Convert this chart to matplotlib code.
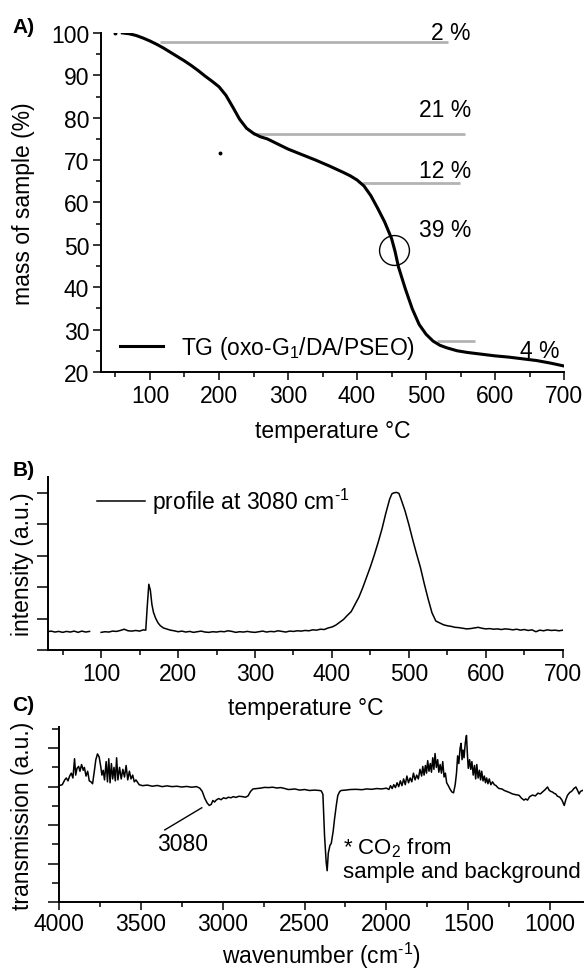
import numpy as np
import matplotlib
matplotlib.use("Agg")
import matplotlib.pyplot as plt
from matplotlib.ticker import MultipleLocator, NullFormatter

plt.rcParams['font.family'] = ['Liberation Sans', 'DejaVu Sans']
plt.rcParams['mathtext.fontset'] = 'custom'
plt.rcParams['mathtext.rm'] = 'Liberation Sans'
plt.rcParams['mathtext.it'] = 'Liberation Sans'
plt.rcParams['mathtext.default'] = 'regular'

# --- A) TG curve
tg_temp = [60, 70, 80, 90, 100, 110, 120, 130, 140, 150, 160, 170, 180, 190, 200,
           210, 220, 230, 240, 250, 260, 270, 280, 290, 300, 320, 340, 360, 380,
           390, 400, 410, 420, 430, 440, 450, 455, 460, 470, 480, 490, 500, 510, 520,
           530, 545, 560, 580, 600, 620, 640, 660, 680, 700]
tg_mass = [100.0, 99.8, 99.4, 98.8, 98.1, 97.3, 96.4, 95.4, 94.4, 93.4, 92.3, 91.1,
           89.8, 88.6, 87.3, 85.3, 82.5, 79.6, 77.5, 76.3, 75.5, 75.0, 74.2, 73.4,
           72.6, 71.3, 70.0, 68.6, 67.1, 66.3, 65.3, 63.9, 61.6, 58.6, 55.4, 51.5,
           48.5, 44.8, 39.6, 34.9, 31.2, 28.9, 27.3, 26.3, 25.7, 25.0, 24.6, 24.2,
           23.8, 23.5, 23.1, 22.7, 22.1, 21.4]
stray_temp = [49, 201]
stray_mass = [100.0, 71.6]

# mass-loss steps (grey lines) and their labels
step_mass = [97.8, 76.1, 64.6, 27.3]
step_t0 = [114, 249, 407, 516]
step_t1 = [532, 556, 549, 571]
pct_labels = ['2 %', '21 %', '12 %', '39 %', '4 %']
pct_t = [564, 566, 565, 566, 694]
pct_m = [100.2, 82.0, 67.6, 53.7, 25.0]
circle_t, circle_m = 454, 48.8

# --- B) profile at 3080 cm-1
b_temp = [30, 35, 40, 45, 50, 55, 60, 65, 70, 75, 80, 85, 92, 100, 105, 110, 115,
          120, 125, 130, 135, 140, 145, 150, 155, 158, 160, 162, 164, 166, 168, 171,
          174, 177, 181, 186, 190, 195, 200, 205, 210, 215, 220, 225, 230, 235, 240,
          245, 250, 255, 260, 265, 270, 275, 280, 285, 290, 295, 300, 305, 310, 315,
          320, 325, 330, 335, 340, 345, 350, 355, 360, 365, 370, 375, 380, 385, 390,
          395, 400, 405, 410, 415, 420, 425, 430, 435, 440, 445, 450, 455, 460, 465,
          470, 475, 478, 481, 484, 487, 490, 495, 500, 505, 510, 515, 520, 525, 530,
          535, 540, 545, 550, 555, 560, 565, 570, 575, 580, 585, 590, 595, 600, 605,
          610, 615, 620, 625, 630, 635, 640, 645, 650, 655, 660, 665, 670, 675, 680,
          685, 690, 695, 700]
b_int = [0.58, 0.60, 0.57, 0.59, 0.56, 0.59, 0.57, 0.60, 0.56, 0.60, 0.57, 0.59, np.nan,
         0.56, 0.58, 0.57, 0.60, 0.59, 0.62, 0.66, 0.61, 0.60, 0.62, 0.60, 0.64, 0.63,
         1.40, 2.09, 1.90, 1.45, 1.20, 1.00, 0.86, 0.77, 0.70, 0.66, 0.63, 0.61, 0.58,
         0.60, 0.57, 0.59, 0.56, 0.58, 0.60, 0.57, 0.56, 0.58, 0.57, 0.59, 0.58, 0.61,
         0.59, 0.56, 0.58, 0.57, 0.59, 0.57, 0.56, 0.58, 0.60, 0.57, 0.59, 0.58, 0.61,
         0.59, 0.57, 0.60, 0.59, 0.61, 0.60, 0.62, 0.61, 0.64, 0.63, 0.66, 0.65, 0.70,
         0.73, 0.79, 0.88, 0.97, 1.10, 1.22, 1.45, 1.68, 1.98, 2.32, 2.65, 3.02, 3.42,
         3.85, 4.35, 4.80, 4.97, 5.00, 5.01, 4.98, 4.78, 4.42, 3.98, 3.50, 3.05, 2.62,
         2.10, 1.62, 1.18, 0.92, 0.86, 0.80, 0.77, 0.75, 0.72, 0.71, 0.69, 0.67, 0.68,
         0.70, 0.72, 0.69, 0.67, 0.68, 0.66, 0.67, 0.65, 0.67, 0.66, 0.64, 0.66, 0.63,
         0.65, 0.62, 0.64, 0.58, 0.63, 0.61, 0.64, 0.62, 0.63, 0.61, 0.63]

# --- C) IR spectrum
c_wn = [4000, 3980, 3965, 3955, 3945, 3935, 3925, 3915, 3905, 3898, 3890, 3880, 3872,
        3862, 3852, 3845, 3835, 3825, 3815, 3805, 3795, 3785, 3775, 3765, 3755, 3745,
        3738, 3730, 3722, 3712, 3704, 3696, 3688, 3680, 3672, 3664, 3656, 3648, 3640,
        3630, 3620, 3610, 3600, 3590, 3580, 3570, 3560, 3550, 3540, 3530, 3510, 3490,
        3460, 3430, 3400, 3370, 3340, 3310, 3280, 3250, 3220, 3190, 3160, 3140, 3125,
        3110, 3095, 3082, 3070, 3060, 3050, 3040, 3025, 3010, 2995, 2980, 2965, 2950,
        2935, 2920, 2900, 2880, 2860, 2845, 2830, 2815, 2795, 2770, 2745, 2720, 2695,
        2670, 2645, 2620, 2600, 2580, 2560, 2530, 2500, 2470, 2440, 2410, 2398, 2388,
        2378, 2368, 2362, 2355, 2345, 2337, 2325, 2317, 2305, 2297, 2285, 2276, 2250,
        2220, 2185, 2150, 2120, 2090, 2060, 2030, 2000, 1985, 1975, 1965, 1955, 1945,
        1935, 1925, 1915, 1905, 1895, 1885, 1875, 1865, 1855, 1845, 1835, 1825, 1815,
        1805, 1795, 1785, 1778, 1770, 1762, 1755, 1748, 1740, 1732, 1725, 1717, 1710,
        1703, 1695, 1687, 1680, 1672, 1664, 1656, 1648, 1640, 1632, 1622, 1610, 1600,
        1590, 1580, 1572, 1565, 1558, 1550, 1544, 1538, 1532, 1526, 1518, 1511, 1505,
        1500, 1492, 1485, 1478, 1470, 1462, 1455, 1448, 1440, 1432, 1425, 1418, 1410,
        1402, 1395, 1388, 1380, 1372, 1362, 1352, 1341, 1330, 1320, 1311, 1295, 1280,
        1265, 1250, 1230, 1210, 1190, 1175, 1160, 1150, 1138, 1125, 1108, 1090, 1075,
        1060, 1047, 1030, 1016, 1005, 995, 986, 975, 966, 955, 941, 928, 914, 905, 894,
        880, 870, 864, 855, 843, 835, 823, 815, 803]
c_tr = [6.05, 6.10, 6.35, 6.45, 6.30, 6.55, 6.70, 6.45, 7.45, 6.60, 6.95, 7.05, 6.80,
        7.15, 6.85, 7.00, 6.55, 6.80, 6.30, 6.25, 6.15, 6.75, 7.40, 7.70, 7.55, 7.05,
        6.60, 6.85, 6.35, 7.30, 6.25, 7.45, 6.20, 7.20, 6.40, 7.00, 6.30, 7.50, 6.35,
        7.00, 6.40, 6.90, 6.50, 7.10, 6.35, 6.80, 6.40, 6.60, 6.25, 6.35, 6.10, 6.05,
        6.08, 6.02, 6.06, 6.00, 6.04, 6.00, 6.02, 5.98, 6.01, 5.97, 6.00, 5.92, 5.75,
        5.40, 5.15, 5.02, 5.08, 5.28, 5.20, 5.30, 5.38, 5.32, 5.42, 5.38, 5.45, 5.42,
        5.48, 5.44, 5.50, 5.48, 5.45, 5.52, 5.75, 5.88, 5.90, 5.92, 5.96, 5.95, 5.97,
        5.93, 5.95, 5.90, 5.85, 5.86, 5.88, 5.82, 5.85, 5.80, 5.82, 5.80, 5.78, 5.60,
        3.45, 2.07, 1.63, 2.55, 2.95, 3.05, 3.70, 4.32, 5.10, 5.54, 5.75, 5.80, 5.82,
        5.85, 5.86, 5.84, 5.88, 5.86, 5.90, 5.88, 5.92, 5.85, 6.05, 5.90, 6.10, 5.95,
        6.20, 6.00, 6.30, 6.05, 6.40, 6.10, 6.55, 6.20, 6.45, 6.25, 6.70, 6.35, 6.60,
        6.40, 6.90, 6.55, 7.05, 6.60, 7.10, 6.70, 7.35, 6.80, 7.20, 6.75, 7.50, 6.90,
        7.72, 7.00, 7.40, 6.75, 7.15, 6.70, 7.30, 6.50, 6.70, 6.20, 6.05, 5.85, 5.72,
        5.68, 6.10, 6.70, 7.60, 7.20, 8.00, 8.25, 7.40, 7.90, 7.50, 8.30, 8.66, 7.60,
        6.95, 7.40, 6.90, 7.30, 6.60, 7.10, 6.40, 7.15, 6.45, 6.85, 6.35, 6.80, 6.30,
        6.55, 6.20, 6.45, 6.15, 6.40, 6.10, 6.25, 6.10, 6.05, 5.95, 5.90, 5.88, 5.80,
        5.75, 5.70, 5.62, 5.58, 5.55, 5.40, 5.30, 5.36, 5.30, 5.48, 5.56, 5.52, 5.66,
        5.62, 5.72, 5.85, 5.98, 5.80, 5.75, 5.72, 5.65, 5.62, 5.50, 5.45, 5.30, 5.02,
        5.30, 5.55, 5.70, 5.75, 5.80, 5.90, 5.98, 5.85, 5.62, 5.75, 5.80]

FS_TICK = 16.5
FS_LAB = 16.5
GREY = '#b3b3b3'


def style_axes(ax):
    ax.spines['top'].set_visible(False)
    ax.spines['right'].set_visible(False)
    for s in ('left', 'bottom'):
        ax.spines[s].set_linewidth(1.4)
    ax.tick_params(which='major', direction='out', length=6, width=1.1,
                   labelsize=FS_TICK, pad=2.5)
    ax.tick_params(which='minor', direction='out', length=3.5, width=1.1)


def place_labels(ax, xy, yx):
    ax.xaxis.set_label_coords(0.5, xy)
    ax.yaxis.set_label_coords(yx, 0.5)
    ax.xaxis.label.set_va('center')
    ax.yaxis.label.set_va('center')


fig = plt.figure(figsize=(5.87, 9.70), dpi=100)

# ---------- A
axA = fig.add_axes([0.172, 0.6155, 0.789, 0.3495])
for y, t0, t1 in zip(step_mass, step_t0, step_t1):
    axA.plot([t0, t1], [y, y], color=GREY, lw=2.0, solid_capstyle='butt', zorder=1)
axA.plot(tg_temp, tg_mass, color='black', lw=2.2, zorder=3,
         label='TG (oxo-G$_1$/DA/PSEO)')
axA.plot(stray_temp, stray_mass, ls='none', marker='o', ms=1.8, color='black')
axA.plot(circle_t, circle_m, marker='o', ms=21.5, mfc='none', mec='black', mew=1.0)
for lab, t, m in zip(pct_labels, pct_t, pct_m):
    axA.text(t, m, lab, ha='right', va='center', fontsize=FS_LAB)
axA.set_xlim(29, 700)
axA.set_ylim(20, 100)
axA.xaxis.set_major_locator(MultipleLocator(100))
axA.xaxis.set_minor_locator(MultipleLocator(50))
axA.yaxis.set_major_locator(MultipleLocator(10))
axA.yaxis.set_minor_locator(MultipleLocator(5))
style_axes(axA)
axA.set_xlabel('temperature °C', fontsize=FS_LAB)
axA.set_ylabel('mass of sample (%)', fontsize=FS_LAB)
place_labels(axA, -0.174, -0.168)
axA.legend(loc='center left', bbox_to_anchor=(0.041, 0.071), frameon=False,
           fontsize=FS_LAB, handlelength=1.9, handletextpad=0.75,
           borderpad=0, borderaxespad=0)
fig.text(0.021, 0.972, 'A)', fontsize=15, fontweight='bold', va='center')

# ---------- B
axB = fig.add_axes([0.0818, 0.3289, 0.877, 0.1783])
axB.plot(b_temp, b_int, color='black', lw=1.1, label=r'profile at 3080 cm$^{\text{-1}}$')
axB.set_xlim(31, 700)
axB.set_ylim(0, 5.5)
axB.xaxis.set_major_locator(MultipleLocator(100))
axB.xaxis.set_minor_locator(MultipleLocator(50))
axB.yaxis.set_major_locator(MultipleLocator(1))
axB.yaxis.set_major_formatter(NullFormatter())
style_axes(axB)
axB.tick_params(axis='y', which='major', length=8)
axB.set_xticks([100, 200, 300, 400, 500, 600, 700])
axB.set_xlabel('temperature °C', fontsize=FS_LAB)
axB.set_ylabel('intensity (a.u.)', fontsize=FS_LAB)
place_labels(axB, -0.335, -0.049)
axB.legend(loc='center left', bbox_to_anchor=(0.095, 0.861), frameon=False,
           fontsize=FS_LAB, handlelength=2.1, handletextpad=0.3,
           borderpad=0, borderaxespad=0)
fig.text(0.021, 0.515, 'B)', fontsize=15, fontweight='bold', va='center')

# ---------- C
axC = fig.add_axes([0.1005, 0.069, 0.8925, 0.1805])
axC.plot(c_wn, c_tr, color='black', lw=1.1)
axC.set_xlim(4000, 800)
axC.set_ylim(0, 9.1)
axC.xaxis.set_major_locator(MultipleLocator(500))
axC.xaxis.set_minor_locator(MultipleLocator(250))
axC.yaxis.set_major_locator(MultipleLocator(2))
axC.yaxis.set_minor_locator(MultipleLocator(1))
axC.yaxis.set_major_formatter(NullFormatter())
style_axes(axC)
axC.tick_params(axis='x', which='major', pad=1.5)
axC.tick_params(axis='y', which='major', length=8)
axC.tick_params(axis='y', which='minor', length=5)
axC.plot([3354, 3128], [3.75, 4.9], color='black', lw=1.0)
axC.text(3244, 3.07, '3080', ha='center', va='center', fontsize=FS_LAB)
axC.text(2268, 2.26, '* CO$_2$ from\nsample and background', ha='left',
         va='center', fontsize=16, linespacing=1.1)
axC.set_xlabel(r'wavenumber (cm$^{\text{-1}}$)', fontsize=FS_LAB)
axC.set_ylabel('transmission (a.u.)', fontsize=FS_LAB)
place_labels(axC, -0.30, -0.069)
fig.text(0.021, 0.273, 'C)', fontsize=15, fontweight='bold', va='center')

fig.savefig('out.png', dpi=100)
